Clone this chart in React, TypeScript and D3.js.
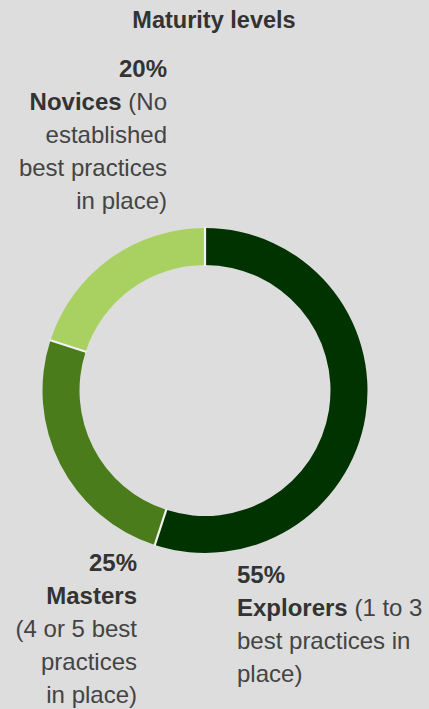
import React from "react";
import * as d3 from "d3";

const categories = ["Explorers", "Masters", "Novices"];
const values = [55, 25, 20];
const colors = ["#003300", "#4a7c1b", "#a8d162"];
const title = "Maturity levels";

// label lines: each line is list of [text, bold]
const labelLines: [string, boolean][][][] = [
  [
    [["55%", true]],
    [["Explorers", true], [" (1 to 3", false]],
    [["best practices in", false]],
    [["place)", false]],
  ],
  [
    [["25%", true]],
    [["Masters", true]],
    [["(4 or 5 best", false]],
    [["practices", false]],
    [["in place)", false]],
  ],
  [
    [["20%", true]],
    [["Novices", true], [" (No", false]],
    [["established", false]],
    [["best practices", false]],
    [["in place)", false]],
  ],
];

const W = 429;
const H = 709;
const cx = 205;
const cy = 390.5;
const outerR = 162.5;
const innerR = 125.5;
const lineH = 33;
const labelPos = [
  { x: 237, y: 583, anchor: "start" },
  { x: 137, y: 571, anchor: "end" },
  { x: 167, y: 77, anchor: "end" },
];

export default function App() {
  const pie = d3.pie<number>().sort(null).value((d) => d);
  const arcs = pie(values);
  const arc = d3.arc<d3.PieArcDatum<number>>().innerRadius(innerR).outerRadius(outerR);
  const font = "'Liberation Sans', Arial, Helvetica, sans-serif";
  return (
    <div style={{ position: "fixed", left: 0, top: 0, width: W, height: H, background: "#dddddd" }}>
      <svg width={W} height={H} style={{ display: "block" }} fontFamily={font}>
        <rect width={W} height={H} fill="#dddddd" />
        <text x={214} y={28} textAnchor="middle" fontSize={23.5} fontWeight="bold" fill="#333333">
          {title}
        </text>
        <g transform={`translate(${cx},${cy})`}>
          {arcs.map((a, i) => (
            <path key={categories[i]} d={arc(a) || ""} fill={colors[i]} />
          ))}
          {arcs.map((a, i) => {
            const ang = a.startAngle;
            const s = Math.sin(ang);
            const c = -Math.cos(ang);
            return (
              <line
                key={"sep" + i}
                x1={s * (innerR - 1)}
                y1={c * (innerR - 1)}
                x2={s * (outerR + 1)}
                y2={c * (outerR + 1)}
                stroke="#f2f2f2"
                strokeWidth={2.2}
              />
            );
          })}
        </g>
        {labelLines.map((lines, i) => (
          <g key={categories[i]}>
            {lines.map((line, j) => (
              <text
                key={j}
                x={labelPos[i].x}
                y={labelPos[i].y + j * lineH}
                textAnchor={labelPos[i].anchor}
                fontSize={24}
                fill="#333333"
              >
                {line.map(([t, b], k) => (
                  <tspan key={k} fontWeight={b ? "bold" : "normal"} fill={b ? "#333333" : "#444444"} xmlSpace="preserve">
                    {t}
                  </tspan>
                ))}
              </text>
            ))}
          </g>
        ))}
      </svg>
    </div>
  );
}
